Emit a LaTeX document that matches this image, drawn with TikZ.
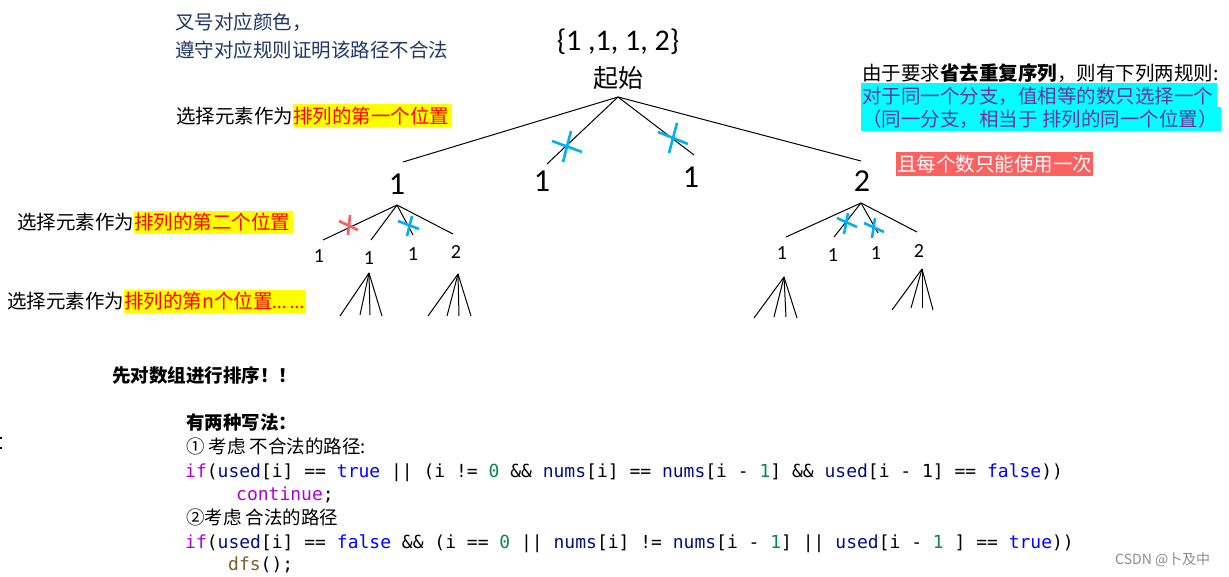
\documentclass[tikz,border=0pt]{standalone}
\usepackage{fontspec}
\setmainfont{Noto Sans CJK SC}
\newfontfamily\cjkfont{Noto Sans CJK SC}
\newfontfamily\numfont{Carlito}
\newfontfamily\codefont{DejaVu Sans Mono}
\definecolor{noteblue}{HTML}{203864}
\definecolor{crossblue}{HTML}{00B0F0}
\definecolor{crossred}{HTML}{FF5B5B}
\definecolor{boxred}{HTML}{FF6161}
\definecolor{rulecyan}{HTML}{00FFFF}
\definecolor{hlyellow}{HTML}{FFFF00}
\definecolor{rulepurple}{HTML}{7030A0}
\definecolor{kwc}{HTML}{AF00DB}
\definecolor{varc}{HTML}{001080}
\definecolor{boolc}{HTML}{0000FF}
\definecolor{numc}{HTML}{098658}
\definecolor{fnc}{HTML}{795E26}
\newcommand{\kw}[1]{\textcolor{kwc}{#1}}
\newcommand{\vr}[1]{\textcolor{varc}{#1}}
\newcommand{\bl}[1]{\textcolor{boolc}{#1}}
\newcommand{\nm}[1]{\textcolor{numc}{#1}}
\tikzset{
  cjk/.style={inner sep=0pt, anchor=west, font=\cjkfont\fontsize{19.5}{24}\selectfont},
  cjks/.style={inner sep=0pt, anchor=west, font=\cjkfont\fontsize{18.5}{22}\selectfont},
  code/.style={inner sep=0pt, anchor=base west, font=\codefont\fontsize{18}{22}\selectfont},
  bignum/.style={inner sep=0pt, font=\numfont\fontsize{32}{36}\selectfont},
  smallnum/.style={inner sep=0pt, font=\numfont\fontsize{20}{24}\selectfont},
  branch/.style={draw=black, line width=1pt},
  bx/.style={draw=crossblue, line width=2.6pt},
  rx/.style={draw=crossred, line width=2.6pt},
}
\begin{document}
\begin{tikzpicture}[x=1pt,y=-1pt]
\useasboundingbox (0,0) rectangle (1229,577);
\fill[white] (0,0) rectangle (1229,577);

% ---------- notes, top left ----------
\node[cjk, text=noteblue] (n1) at (175,22) {叉号对应颜色，};
\node[cjk, text=noteblue] (n2) at (175,50) {遵守对应规则证明该路径不合法};

% level labels with highlights
\fill[hlyellow] (293,104) rectangle (452,127);
\node[cjk] (l1a) at (176,116) {选择元素作为};
\node[cjk, text=red] (l1b) at (293,116) {排列的第一个位置};
\fill[hlyellow] (134,211) rectangle (293,234);
\node[cjk] (l2a) at (17,222) {选择元素作为};
\node[cjk, text=red] (l2b) at (134,222) {排列的第二个位置};
\fill[hlyellow] (124,290) rectangle (306,313);
\node[cjk] (l3a) at (7,301) {选择元素作为};
\node[cjk, text=red] (l3b) at (124,301) {排列的第n个位置{\numfont … …}};

% ---------- right notes ----------
\node[cjk] (r1) at (862,73) {由于要求\textbf{省去重复序列}，则有下列两规则:};
\fill[rulecyan] (861,83) rectangle (1217,107);
\fill[rulecyan] (861,107) rectangle (1221,131);
\node[cjk, text=rulepurple] (r2) at (862,96) {对于同一个分支，值相等的数只选择一个};
\node[cjk, text=rulepurple] (r3) at (862,119) {（同一分支，相当于 排列的同一个位置）};
\fill[boxred] (896,152) rectangle (1093,176);
\node[cjk, text=white] (r4) at (897,164) {且每个数只能使用一次};

% ---------- tree ----------
\node[inner sep=0pt, font=\numfont\fontsize{30}{34}\selectfont] (set) at (618,42) {\{1 ,1, 1, 2\}};
\node[inner sep=0pt, font=\cjkfont\fontsize{25}{28}\selectfont] (start) at (618,78) {起始};
\coordinate (r) at (618,97);
\coordinate (e1) at (403,162);
\coordinate (e2) at (547,164);
\coordinate (e3) at (694,155);
\coordinate (e4) at (861,161);
\draw[branch] (r) -- (e1);
\draw[branch] (r) -- (e2);
\draw[branch] (r) -- (e3);
\draw[branch] (r) -- (e4);
\node[bignum] (a1) at (397,184) {1};
\node[bignum] (a2) at (542,181) {1};
\node[bignum] (a3) at (691,177) {1};
\node[bignum] (a4) at (862,181) {2};
% crosses on first level
\draw[bx] (552,141) -- (582,152);
\draw[bx] (571,131) -- (563,162);
\draw[bx] (658,132) -- (688,144);
\draw[bx] (677,123) -- (669,153);

% left subtree
\coordinate (lr) at (397,205);
\coordinate (lc1) at (323,240);
\coordinate (lc2) at (371,240);
\coordinate (lc3) at (413,235);
\coordinate (lc4) at (453,234);
\draw[branch] (lr) -- (lc1);
\draw[branch] (lr) -- (lc2);
\draw[branch] (lr) -- (lc3);
\draw[branch] (lr) -- (lc4);
\node[smallnum] (b1) at (319,256) {1};
\node[smallnum] (b2) at (369,258) {1};
\node[smallnum] (b3) at (413,254) {1};
\node[smallnum] (b4) at (456,252) {2};
\draw[rx] (339,221) -- (358,230);
\draw[rx] (350,215) -- (348,235);
\draw[bx] (398,221) -- (419,229);
\draw[bx] (412,216) -- (407,236);
% grandchildren
\coordinate (g1) at (369,273);
\coordinate (g1a) at (340,316);
\coordinate (g1b) at (360,315);
\coordinate (g1c) at (370,315);
\coordinate (g1d) at (382,316);
\draw[branch] (g1) -- (g1a);
\draw[branch] (g1) -- (g1b);
\draw[branch] (g1) -- (g1c);
\draw[branch] (g1) -- (g1d);
\coordinate (g2) at (458,274);
\coordinate (g2a) at (428,316);
\coordinate (g2b) at (447,316);
\coordinate (g2c) at (459,316);
\coordinate (g2d) at (471,316);
\draw[branch] (g2) -- (g2a);
\draw[branch] (g2) -- (g2b);
\draw[branch] (g2) -- (g2c);
\draw[branch] (g2) -- (g2d);

% right subtree
\coordinate (rr) at (861,203);
\coordinate (rc1) at (786,237);
\coordinate (rc2) at (834,237);
\coordinate (rc3) at (878,233);
\coordinate (rc4) at (917,232);
\draw[branch] (rr) -- (rc1);
\draw[branch] (rr) -- (rc2);
\draw[branch] (rr) -- (rc3);
\draw[branch] (rr) -- (rc4);
\node[smallnum] (c1) at (782,253) {1};
\node[smallnum] (c2) at (833,255) {1};
\node[smallnum] (c3) at (876,253) {1};
\node[smallnum] (c4) at (919,251) {2};
\draw[bx] (837,218) -- (857,227);
\draw[bx] (848,213) -- (844,234);
\draw[bx] (864,223) -- (884,232);
\draw[bx] (875,218) -- (872,238);
\coordinate (h1) at (784,277);
\coordinate (h1a) at (754,318);
\coordinate (h1b) at (774,317);
\coordinate (h1c) at (786,317);
\coordinate (h1d) at (797,318);
\draw[branch] (h1) -- (h1a);
\draw[branch] (h1) -- (h1b);
\draw[branch] (h1) -- (h1c);
\draw[branch] (h1) -- (h1d);
\coordinate (h2) at (922,269);
\coordinate (h2a) at (892,310);
\coordinate (h2b) at (911,308);
\coordinate (h2c) at (922,308);
\coordinate (h2d) at (933,310);
\draw[branch] (h2) -- (h2a);
\draw[branch] (h2) -- (h2b);
\draw[branch] (h2) -- (h2c);
\draw[branch] (h2) -- (h2d);

% ---------- bottom ----------
\fill[black] (0,437) rectangle (2,439);
\fill[black] (0,447) rectangle (2,449);
\node[cjks] (sort) at (112,375) {\textbf{先对数组进行排序！！}};
\node[cjks] (two) at (186,422) {\textbf{有两种写法：}};
\node[cjks] (w1) at (186,446) {① 考虑 不合法的路径:};
\node[code] (c1l) at (185,477) {\kw{if}(\vr{used}[i] == \bl{true} || (i != \nm{0} \&\& \vr{nums}[i] == \vr{nums}[i - \nm{1}] \&\& \vr{used}[i - 1] == \bl{false}))};
\node[code] (cont) at (236,500) {\kw{continue};};
\node[cjks] (w2) at (186,517) {②考虑 合法的路径};
\node[code] (c2l) at (185,548) {\kw{if}(\vr{used}[i] == \bl{false} \&\& (i == \nm{0} || \vr{nums}[i] != \vr{nums}[i - \nm{1}] || \vr{used}[i - \nm{1} ] == \bl{true}))};
\node[code] (dfs) at (228,570) {\textcolor{fnc}{dfs}();};
\node[inner sep=0pt, anchor=west, text=black!45, font=\cjkfont\fontsize{14}{16}\selectfont] (wm) at (1115,560) {CSDN @卜及中};
\end{tikzpicture}
\end{document}
